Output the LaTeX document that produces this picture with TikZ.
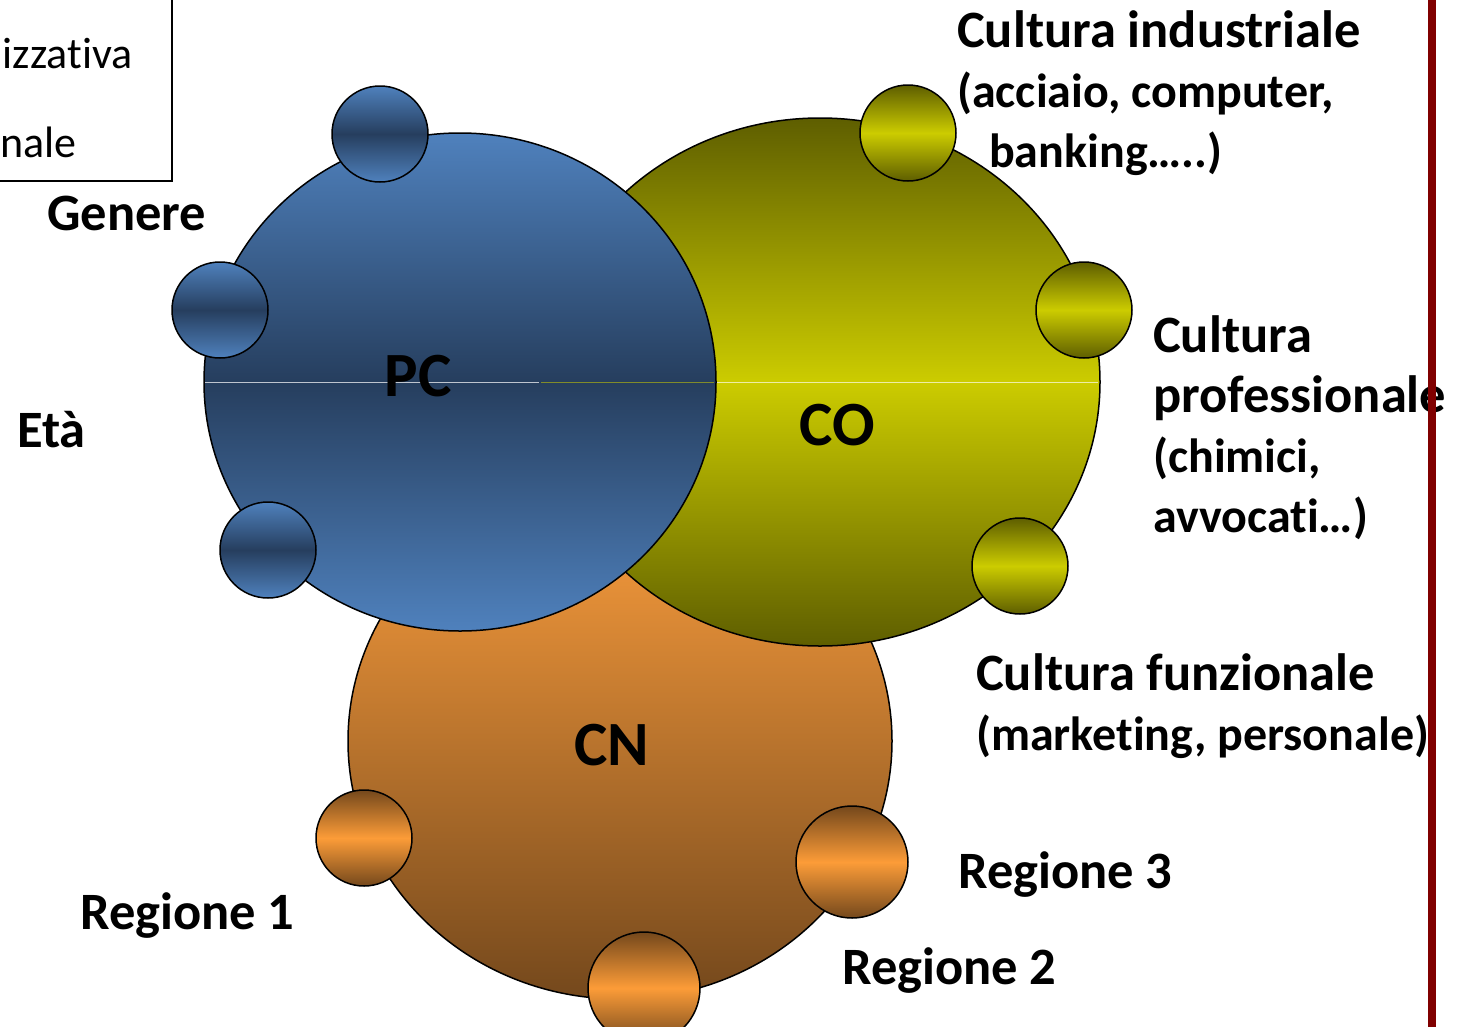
\documentclass[tikz,border=0pt]{standalone}
\usepackage{fontspec}
\setmainfont[RawFeature={-liga;-clig;-calt;-dlig}]{Carlito}
\usetikzlibrary{shadings}
\newcommand{\lw}{1.5pt}
\newcommand{\sm}{\fontsize{48}{60}\selectfont}
\definecolor{pcLight}{RGB}{79,129,189}
\definecolor{pcDark}{RGB}{38,62,94}
\definecolor{coDark}{RGB}{94,94,0}
\definecolor{coLight}{RGB}{204,204,0}
\definecolor{cnLight}{RGB}{255,160,62}
\definecolor{cnMid}{RGB}{200,122,46}
\definecolor{cnDark}{RGB}{116,72,28}
\definecolor{cnBead}{RGB}{252,156,56}
\definecolor{barRed}{RGB}{128,0,0}
\tikzset{
  big/.style={draw=black,line width=\lw},
  beadPC/.style={draw=black,line width=\lw,top color=pcLight,bottom color=pcLight,middle color=pcDark},
  beadCO/.style={draw=black,line width=\lw,top color=coDark,bottom color=coDark,middle color=coLight},
  beadCN/.style={draw=black,line width=\lw,top color=cnDark,bottom color=cnDark,middle color=cnBead},
  lbl/.style={font=\fontsize{52.5}{60}\selectfont\bfseries,inner sep=0pt,anchor=base west,align=left},
  boxtext/.style={font=\fontsize{44}{50}\selectfont,inner sep=0pt,anchor=base east},
  tag/.style={font=\fontsize{63}{70}\selectfont\bfseries,inner sep=0pt}
}
\newcommand{\bead}[4]{\draw[#1] (#2,#3) circle (#4pt);}

\begin{document}
\begin{tikzpicture}[x=1pt,y=-1pt]
    \useasboundingbox (0,0) rectangle (1468,1026);

    % legend box, cut by the page
    \draw[line width=\lw] (-10,-10) rectangle (172,181);
    \node[boxtext] (orga) at (133,68) {izzativa};
    \node[boxtext] (nazi) at (77,157) {nale};

    % the three cultures
    \draw[big,top color=cnLight,middle color=cnMid,bottom color=cnDark] (620,741) ellipse [x radius=272pt,y radius=258pt];
    \draw[big,top color=coDark,bottom color=coDark,middle color=coLight] (820,382) ellipse [x radius=280pt,y radius=264pt];
    \draw[big,top color=pcLight,bottom color=pcLight,middle color=pcDark] (460,382) ellipse [x radius=256pt,y radius=249pt];

    \draw[white!70!pcDark,line width=1pt] (205,382) -- (539,382);
    \draw[coLight!55!pcDark,line width=1pt] (541,382) -- (714,382);
    \draw[white!65!coLight,line width=1pt] (717,382) -- (1098,382);

    \bead{beadPC}{380}{134}{48}
    \bead{beadPC}{220}{310}{48}
    \bead{beadPC}{268}{550}{48}
    \bead{beadCO}{908}{133}{48}
    \bead{beadCO}{1084}{310}{48}
    \bead{beadCO}{1020}{566}{48}
    \bead{beadCN}{364}{838}{48}
    \bead{beadCN}{852}{862}{56}
    \bead{beadCN}{644}{988}{56}

    \node[tag] (pc) at (418,376) {PC};
    \node[tag] (co) at (837,425) {CO};
    \node[tag] (cn) at (612,745) {CN};

    % multi-line labels sit on the baseline of their last line
    \node[lbl] (genere) at (47,230) {Genere};
    \node[lbl] (eta) at (17,447) {Età};
    \node[lbl] (industria) at (957,167) {Cultura industriale\\\sm(acciaio, computer,\\\sm\hspace{32pt}banking…..)};
    \node[lbl] (professione) at (1153,532) {Cultura\\professionale\\\sm(chimici,\\\sm avvocati…)};
    \node[lbl] (funzione) at (976,750) {Cultura funzionale\\\sm(marketing, personale)};
    \node[lbl] (reg3) at (958,888) {Regione 3};
    \node[lbl] (reg2) at (842,984) {Regione 2};
    \node[lbl] (reg1) at (80,929) {Regione 1};

    \draw[barRed,line width=8pt] (1432,-5) -- (1432,1031);
\end{tikzpicture}
\end{document}
